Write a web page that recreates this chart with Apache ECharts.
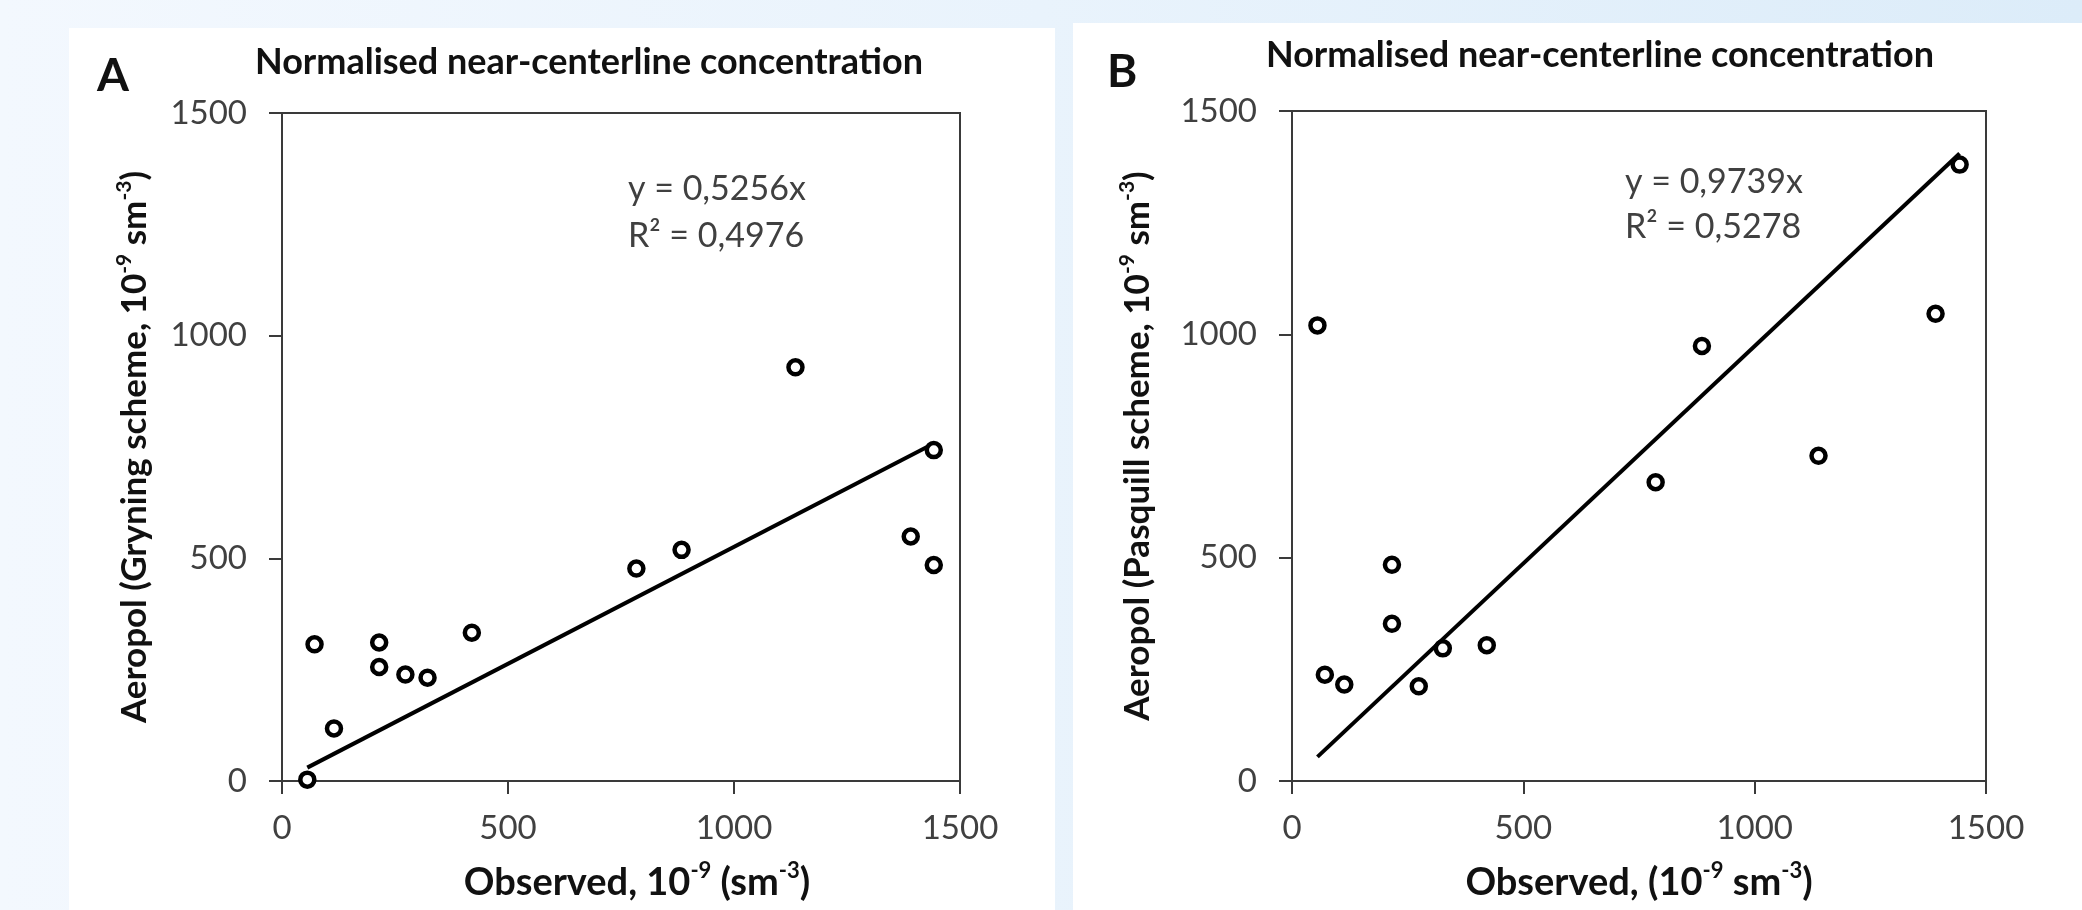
<!DOCTYPE html>
<html>
<head>
<meta charset="utf-8">
<script src="https://cdn.jsdelivr.net/npm/echarts@6/dist/echarts.min.js"></script>
<style>
  html, body { margin: 0; padding: 0; width: 2082px; height: 910px; overflow: hidden; }
  body { background: linear-gradient(to right, #f3f8fe 0%, #e9f3fc 50%, #dcecf9 100%); position: relative; }
  .panel { position: absolute; background: #ffffff; }
  #chart { position: absolute; left: 0; top: 0; width: 2082px; height: 910px; }
</style>
</head>
<body>
<div class="panel" style="left:69px; top:28px; width:986px; height:882px;"></div>
<div class="panel" style="left:1073px; top:23px; width:1009px; height:887px;"></div>
<div id="chart"></div>
<script>
// ---- Data ----
const titleText = 'Normalised near-centerline concentration';
const panelLabels = ['A', 'B'];
const axisTicks = [0, 500, 1000, 1500];

// Panel A: Observed vs Aeropol (Gryning scheme)
const observedA = [56, 72, 115, 215, 215, 273, 322, 420, 784, 884, 1136, 1391, 1442, 1442];
const grynA     = [3, 307, 118, 311, 256, 239, 232, 333, 477, 519, 929, 549, 743, 485];
const trendA    = [[56, 30], [1442, 758]];
const equationA = ['y = 0,5256x', 'R² = 0,4976'];

// Panel B: Observed vs Aeropol (Pasquill scheme)
const observedB = [55, 71, 113, 216, 216, 274, 326, 421, 786, 886, 1138, 1391, 1443];
const pasqB     = [1020, 238, 216, 484, 352, 212, 297, 304, 669, 974, 728, 1046, 1380];
const trendB    = [[55, 54], [1443, 1405]];
const equationB = ['y = 0,9739x', 'R² = 0,5278'];

// ---- Build chart ----
const FONT = 'Lato';
const pairs = (xs, ys) => xs.map((x, i) => [x, ys[i]]);
const axisMin = axisTicks[0], axisMax = axisTicks[axisTicks.length - 1];
const axisStep = axisTicks[1] - axisTicks[0];

function nameStyle(size, supSize, extra) {
  return Object.assign({
    fontFamily: FONT, fontWeight: 'bold', fontSize: size, color: '#111', lineHeight: size + 7,
    rich: {
      sup: { fontSize: supSize, fontWeight: 'bold', fontFamily: FONT, color: '#111', verticalAlign: 'top', lineHeight: supSize + 1 },
      n: { fontFamily: FONT, fontWeight: 'bold', fontSize: size, color: '#111', lineHeight: size + 7 }
    }
  }, extra || {});
}

function valueAxis(gridIndex, isX, name, nameGap, nameTextStyle) {
  return {
    type: 'value', gridIndex: gridIndex,
    min: axisMin, max: axisMax, interval: axisStep,
    name: name, nameLocation: 'middle', nameGap: nameGap,
    nameRotate: isX ? 0 : 90,
    nameTextStyle: nameTextStyle,
    axisLine: { show: true, onZero: false, lineStyle: { color: '#3a3a3a', width: 2 } },
    axisTick: { show: true, inside: false, length: 13, lineStyle: { color: '#3a3a3a', width: 2 } },
    axisLabel: { fontFamily: FONT, fontSize: 33, color: '#404040', margin: isX ? 31 : 35,
                 formatter: (v) => String(v) },
    splitLine: { show: false }
  };
}

const chart = echarts.init(document.getElementById('chart'), null, { renderer: 'canvas' });
const eqStyle = { fontFamily: FONT, fontSize: 34, fontWeight: 'normal', color: '#404040' };
const ttlStyle = { fontFamily: FONT, fontSize: 36, fontWeight: 'bold', color: '#111' };
const lblStyle = { fontFamily: FONT, fontSize: 46, fontWeight: 'bold', color: '#111' };

const markerStyle = { color: '#fff', borderColor: '#000', borderWidth: 4.5, opacity: 1 };

chart.setOption({
  animation: false,
  backgroundColor: 'transparent',
  title: [
    { text: panelLabels[0], left: 97, top: 53, padding: 0, textStyle: lblStyle },
    { text: titleText, left: 255, top: 44, padding: 0, textStyle: ttlStyle },
    { text: panelLabels[1], left: 1107, top: 49, padding: 0, textStyle: lblStyle },
    { text: titleText, left: 1266, top: 37, padding: 0, textStyle: ttlStyle },
    { text: equationA[0], left: 628, top: 172, padding: 0, textStyle: eqStyle },
    { text: equationA[1], left: 628, top: 219, padding: 0, textStyle: eqStyle },
    { text: equationB[0], left: 1625, top: 165, padding: 0, textStyle: eqStyle },
    { text: equationB[1], left: 1625, top: 210, padding: 0, textStyle: eqStyle }
  ],
  grid: [
    { left: 282, top: 113, width: 678, height: 670, show: true, borderColor: '#3a3a3a', borderWidth: 2, backgroundColor: 'transparent' },
    { left: 1292, top: 111, width: 694, height: 673, show: true, borderColor: '#3a3a3a', borderWidth: 2, backgroundColor: 'transparent' }
  ],
  xAxis: [
    valueAxis(0, true, '{n|Observed, 10}{sup|-9}{n| (sm}{sup|-3}{n|)}', 79, nameStyle(38, 22, { padding: [0, 0, 0, 32] })),
    valueAxis(1, true, '{n|Observed, (10}{sup|-9}{n| sm}{sup|-3}{n|)}', 79, nameStyle(38, 22))
  ],
  yAxis: [
    valueAxis(0, false, '{n|Aeropol (Gryning scheme, 10}{sup|-9}{n| sm}{sup|-3}{n|)}', 126, nameStyle(35, 21)),
    valueAxis(1, false, '{n|Aeropol (Pasquill scheme, 10}{sup|-9}{n| sm}{sup|-3}{n|)}', 133, nameStyle(35, 21))
  ],
  series: [
    { type: 'line', xAxisIndex: 0, yAxisIndex: 0, data: trendA, showSymbol: false, silent: true,
      lineStyle: { color: '#000', width: 4 }, z: 2 },
    { type: 'scatter', xAxisIndex: 0, yAxisIndex: 0, data: pairs(observedA, grynA), symbol: 'circle', symbolSize: 14,
      itemStyle: markerStyle, z: 3 },
    { type: 'line', xAxisIndex: 1, yAxisIndex: 1, data: trendB, showSymbol: false, silent: true,
      lineStyle: { color: '#000', width: 4 }, z: 2 },
    { type: 'scatter', xAxisIndex: 1, yAxisIndex: 1, data: pairs(observedB, pasqB), symbol: 'circle', symbolSize: 14,
      itemStyle: markerStyle, z: 3 }
  ]
});
</script>
</body>
</html>
